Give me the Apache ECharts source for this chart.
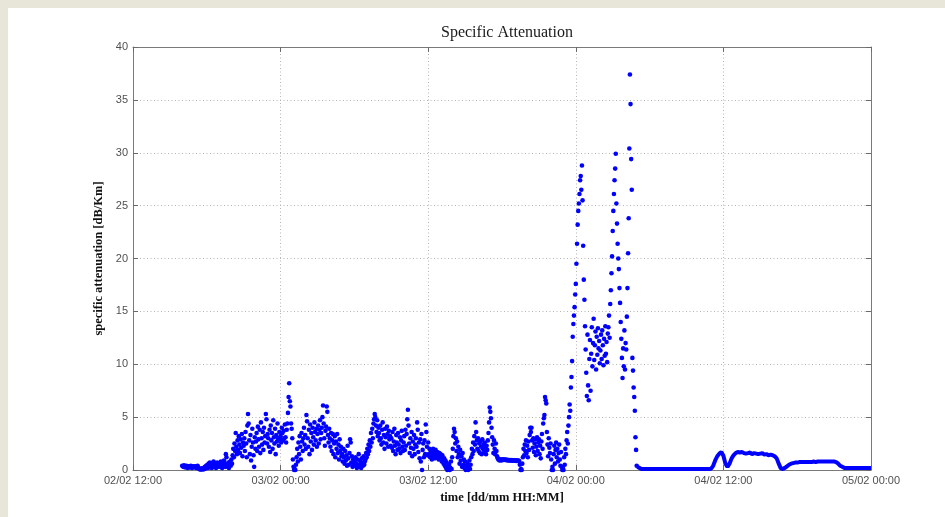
<!DOCTYPE html>
<html>
<head>
<meta charset="utf-8">
<title>Specific Attenuation</title>
<script src="https://cdn.jsdelivr.net/npm/echarts@6/dist/echarts.min.js"></script>
<style>
  html, body { margin: 0; padding: 0; width: 945px; height: 517px; overflow: hidden; background: #e8e5d9; }
  #sheet { position: absolute; left: 8px; top: 8px; right: 0; bottom: 0; background: #ffffff; }
  #chart { position: absolute; left: 0; top: 0; width: 945px; height: 517px; }
</style>
</head>
<body>
<div id="sheet"></div>
<div id="chart"></div>
<script>
// Time axis runs in hours counted from 02/02 12:00.
const tickLabels = ['02/02 12:00', '03/02 00:00', '03/02 12:00', '04/02 00:00', '04/02 12:00', '05/02 00:00'];
const tickStepHours = 12;
const yTicks = [0, 5, 10, 15, 20, 25, 30, 35, 40];

// Rain event: one sample every 3 minutes from 02/02 16:00 (hour 4) to 04/02 05:00.
const rainStartHour = 4;
const rainStepHours = 0.05;
const rainAttenuation = [
  // 02/02 16:00
  0.4,0.35,0.3,0.45,0.3,0.25,0.3,0.4,0.3,0.2,0.3,0.35,0.25,0.3,0.4,0.3,0.2,0.3,0.35,0.3,
  0.3,0.25,0.35,0.2,0.3,0.4,0.25,0.15,0.1,0.05,0.1,0.05,0.15,0.1,0.05,0.2,0.1,0.3,0.15,0.4,
  0.3,0.5,0.2,0.6,0.4,0.7,0.3,0.5,0.2,0.6,0.4,0.8,0.3,0.5,0.6,0.2,0.4,0.7,0.3,0.5,
  0.4,0.6,0.3,0.8,0.5,0.2,0.7,0.4,0.9,0.6,0.3,1.5,1.2,0.5,0.3,0.7,0.2,0.5,0.8,0.4,
  // 02/02 20:00
  1.0,0.6,1.4,2.0,1.2,2.5,1.8,3.5,2.2,1.5,2.8,1.9,3.2,2.4,1.6,2.9,2.1,3.4,1.3,2.6,
  2.3,3.0,1.8,3.6,2.5,1.2,4.2,5.3,4.4,2.8,1.5,3.3,0.9,2.2,3.9,2.6,1.4,0.3,3.1,2.0,
  2.7,3.5,1.8,4.1,2.9,2.2,3.8,1.6,4.5,3.0,2.4,3.6,1.9,4.0,2.6,3.2,5.3,4.8,2.5,3.4,
  3.0,2.2,3.8,1.7,4.2,2.8,3.5,2.0,4.7,3.1,2.5,3.9,1.5,3.3,2.7,4.4,3.0,2.3,3.6,2.9,
  // 03/02 00:00
  3.2,2.6,4.0,3.5,2.8,3.7,3.0,4.3,3.1,2.6,3.8,4.4,5.4,6.9,8.2,6.5,6.0,4.4,3.9,3.0,
  1.0,0.3,0.0,0.1,0.0,0.5,1.2,2.0,0.8,2.6,1.5,3.2,2.2,1.0,3.5,2.7,1.8,3.0,4.0,2.4,
  3.3,2.0,5.2,4.6,3.0,2.2,3.8,1.5,4.3,2.7,3.5,1.9,4.0,3.1,2.4,4.5,3.6,2.8,3.9,2.2,
  3.4,4.2,2.5,3.8,4.7,2.9,3.5,4.0,5.0,6.1,4.4,3.0,2.3,3.7,4.1,6.0,5.5,3.3,2.6,3.9,
  // 03/02 04:00
  3.0,2.2,3.5,1.8,2.8,3.4,1.5,2.5,3.2,1.2,2.7,2.0,3.4,1.6,2.4,1.0,2.9,1.8,2.2,1.3,
  1.5,0.8,2.0,1.2,0.6,1.8,0.9,1.4,0.4,2.3,1.1,0.5,1.6,2.9,2.6,0.7,1.3,0.3,1.0,0.6,
  0.8,0.4,1.2,0.6,0.2,1.0,0.5,1.5,0.3,0.9,0.6,0.2,1.1,0.7,0.4,1.3,0.5,0.8,1.0,1.6,
  1.2,2.0,1.5,2.4,1.8,2.8,2.2,3.5,2.6,3.9,3.0,4.4,4.8,5.3,5.0,4.2,3.6,4.7,3.2,4.0,
  // 03/02 08:00
  3.5,2.8,4.2,3.0,2.4,3.8,4.5,2.6,3.3,2.0,3.9,3.1,2.5,4.1,3.4,2.2,3.7,2.9,3.2,2.3,
  3.0,2.1,3.6,1.8,2.7,3.9,2.3,1.5,3.3,2.6,1.9,3.5,2.4,2.0,3.1,1.6,2.8,3.7,2.2,1.8,
  2.6,3.2,1.9,3.8,2.3,3.4,4.8,5.7,4.2,2.5,1.6,3.0,2.1,3.6,1.3,2.7,2.0,3.3,1.5,2.4,
  3.0,2.2,4.5,3.8,1.7,2.6,1.1,2.9,0.8,3.4,0.0,1.9,2.5,1.2,2.8,1.5,4.3,3.6,2.2,1.4,
  // 03/02 12:00
  2.6,1.5,2.0,1.2,1.8,1.4,1.0,1.7,2.0,1.3,1.6,1.1,1.9,1.5,1.2,1.7,1.4,1.0,1.6,1.3,
  1.5,1.2,0.8,1.4,1.0,0.6,1.1,0.4,0.9,0.2,0.7,0.0,0.3,0.1,0.5,0.0,0.2,0.8,0.1,1.2,
  2.0,3.2,3.9,3.6,2.5,3.0,1.8,2.7,1.2,2.2,1.5,0.6,1.9,0.9,1.3,0.3,1.6,0.5,1.0,0.2,
  0.8,0.0,0.4,0.2,0.6,0.0,0.3,0.9,0.1,0.5,1.2,2.0,1.5,2.6,1.8,3.2,2.4,4.5,3.6,2.8,
  // 03/02 16:00
  2.0,3.0,1.8,2.5,1.6,2.7,2.2,1.5,2.9,2.0,2.4,1.7,2.6,2.1,1.5,2.3,1.9,2.8,3.5,4.5,
  5.9,5.5,4.9,4.0,3.1,2.4,1.6,2.8,2.0,1.5,2.5,1.8,1.3,1.1,1.0,1.0,0.9,1.0,1.0,0.9,
  1.0,1.0,0.95,1.0,1.0,0.95,0.95,1.0,0.95,0.9,0.95,0.95,0.9,0.95,0.9,0.9,0.95,0.9,0.9,0.9,
  0.9,0.9,0.9,0.85,0.9,0.9,0.85,0.9,0.85,0.5,0.0,0.1,0.0,0.6,1.2,2.0,1.4,2.4,1.8,2.8,
  // 03/02 20:00
  1.6,2.3,1.2,2.7,1.9,3.3,4.0,3.6,4.0,2.8,2.1,3.0,1.7,2.5,2.9,1.4,2.2,3.1,1.8,2.6,
  2.9,1.5,2.3,1.1,2.7,3.4,2.0,4.4,4.9,5.2,6.9,6.6,6.3,3.6,2.4,1.3,3.0,2.1,1.6,2.5,
  1.0,0.0,0.3,0.0,1.5,2.3,0.6,1.9,2.6,1.2,2.0,0.8,1.6,2.4,1.0,0.4,1.7,0.3,0.0,0.2,
  0.0,1.2,0.5,2.0,1.5,2.8,3.6,2.5,4.2,5.0,6.2,5.6,7.8,8.8,10.3,12.6,13.8,14.6,15.4,16.6,
  // 04/02 00:00
  17.6,19.5,21.4,23.2,24.5,25.2,26.1,27.4,27.8,26.5,28.8,25.5,21.2,18.0,16.1,13.6,11.4,9.2,7.0,12.8,
  8.0,6.6,10.5,12.3,7.5,11.0,13.5,9.8,12.0,14.3,10.4,11.8,13.1,9.5,12.6,10.9,13.4,11.5,12.2,10.1,
  11.3,12.8,10.5,13.2,11.8,9.9,12.4,10.8,13.6,11.0,12.1,10.2,12.9,13.5,14.6,12.5,15.7,17.0,18.6,20.2,
  22.6,24.5,26.1,27.4,28.5,29.9,25.2,23.3,21.4,20.0,19.0,17.2,15.8,14.0,12.4,10.6,8.7,11.5,9.8,13.2,
  9.5,12.0,11.4,14.5,17.2,20.5,23.8,30.4,37.4,34.6,29.4,26.5,10.6,9.4,7.8,6.9,5.6,3.1,1.9,0.4
];

// After the event: one sample every 10 minutes from 04/02 05:00 (hour 41) to 05/02 00:00.
const tailStartHour = 41;
const tailStepHours = 1 / 6;
const tailAttenuation = [
  0.3,0.2,0.1,0.1,0.1,0.1,
  0.1,0.1,0.1,0.1,0.1,0.1,
  0.1,0.1,0.1,0.1,0.1,0.1,
  0.1,0.1,0.1,0.1,0.1,0.1,
  0.1,0.1,0.1,0.1,0.1,0.1,
  0.1,0.1,0.1,0.1,0.1,0.1,
  0.12,0.4,0.9,1.3,1.55,1.7,
  1.35,0.6,0.3,0.6,1.1,1.4,
  1.6,1.7,1.65,1.7,1.6,1.55,
  1.6,1.65,1.5,1.6,1.55,1.5,
  1.55,1.6,1.45,1.5,1.4,1.45,
  1.4,1.3,1.1,0.6,0.15,0.1,
  0.2,0.35,0.5,0.6,0.65,0.7,
  0.7,0.75,0.75,0.75,0.75,0.75,
  0.75,0.75,0.8,0.75,0.8,0.8,
  0.8,0.8,0.8,0.8,0.8,0.8,
  0.8,0.75,0.6,0.4,0.3,0.2,
  0.2,0.2,0.2,0.2,0.2,0.2,
  0.2,0.2,0.2,0.2,0.2,0.2,
  0.2
];

const rainPoints = rainAttenuation.map((v, i) => [rainStartHour + i * rainStepHours, v]);
const tailPoints = tailAttenuation.map((v, i) => [tailStartHour + i * tailStepHours, v]);

const labelFont = { fontFamily: 'Liberation Sans, Arial, sans-serif', fontSize: 11, color: '#505050' };
const nameFont = { fontFamily: 'Liberation Serif, Times New Roman, serif', fontSize: 12.5, fontWeight: 'bold', color: '#111111' };
const frameLine = { show: true, onZero: false, lineStyle: { color: '#7a7a7a', width: 1 } };
const innerTick = { show: true, inside: true, length: 5, lineStyle: { color: '#6a6a6a', width: 1 } };
const dottedGrid = { show: true, lineStyle: { color: '#b5b5b5', width: 1, type: [1, 2.5] } };

const xMin = 0, xMax = tickStepHours * (tickLabels.length - 1);
const yMin = yTicks[0], yMax = yTicks[yTicks.length - 1], yStep = yTicks[1] - yTicks[0];

const chart = echarts.init(document.getElementById('chart'), null, { renderer: 'canvas' });
chart.setOption({
  backgroundColor: 'transparent',
  animation: false,
  title: {
    text: 'Specific Attenuation',
    left: 502,
    top: 20,
    textAlign: 'center',
    textStyle: { fontFamily: 'Liberation Serif, Times New Roman, serif', fontSize: 16, fontWeight: 'normal', color: '#1a1a1a' }
  },
  grid: { left: 133, right: 74, top: 47, bottom: 47, containLabel: false },
  xAxis: [
    {
      type: 'value', position: 'bottom', min: xMin, max: xMax, interval: tickStepHours,
      axisLine: frameLine, axisTick: innerTick, splitLine: dottedGrid,
      axisLabel: Object.assign({ margin: 5, formatter: v => tickLabels[Math.round(v / tickStepHours)] }, labelFont),
      name: 'time [dd/mm HH:MM]', nameLocation: 'middle', nameGap: 17, nameTextStyle: nameFont
    },
    {
      type: 'value', position: 'top', min: xMin, max: xMax, interval: tickStepHours,
      axisLine: frameLine, axisTick: innerTick, splitLine: { show: false }, axisLabel: { show: false }
    }
  ],
  yAxis: [
    {
      type: 'value', position: 'left', min: yMin, max: yMax, interval: yStep,
      axisLine: frameLine, axisTick: innerTick, splitLine: dottedGrid,
      axisLabel: Object.assign({ margin: 5 }, labelFont),
      name: 'specific attenuation [dB/Km]', nameLocation: 'middle', nameGap: 21, nameTextStyle: nameFont
    },
    {
      type: 'value', position: 'right', min: yMin, max: yMax, interval: yStep,
      axisLine: frameLine, axisTick: innerTick, splitLine: { show: false }, axisLabel: { show: false }
    }
  ],
  series: [
    {
      type: 'scatter', xAxisIndex: 0, yAxisIndex: 0,
      data: rainPoints, symbol: 'circle', symbolSize: 4.6, clip: false,
      itemStyle: { color: '#0000ff', opacity: 1 }
    },
    {
      type: 'line', xAxisIndex: 0, yAxisIndex: 0,
      data: tailPoints, showSymbol: false, clip: false,
      lineStyle: { color: '#0000ff', width: 4 }
    }
  ]
});
</script>
</body>
</html>
